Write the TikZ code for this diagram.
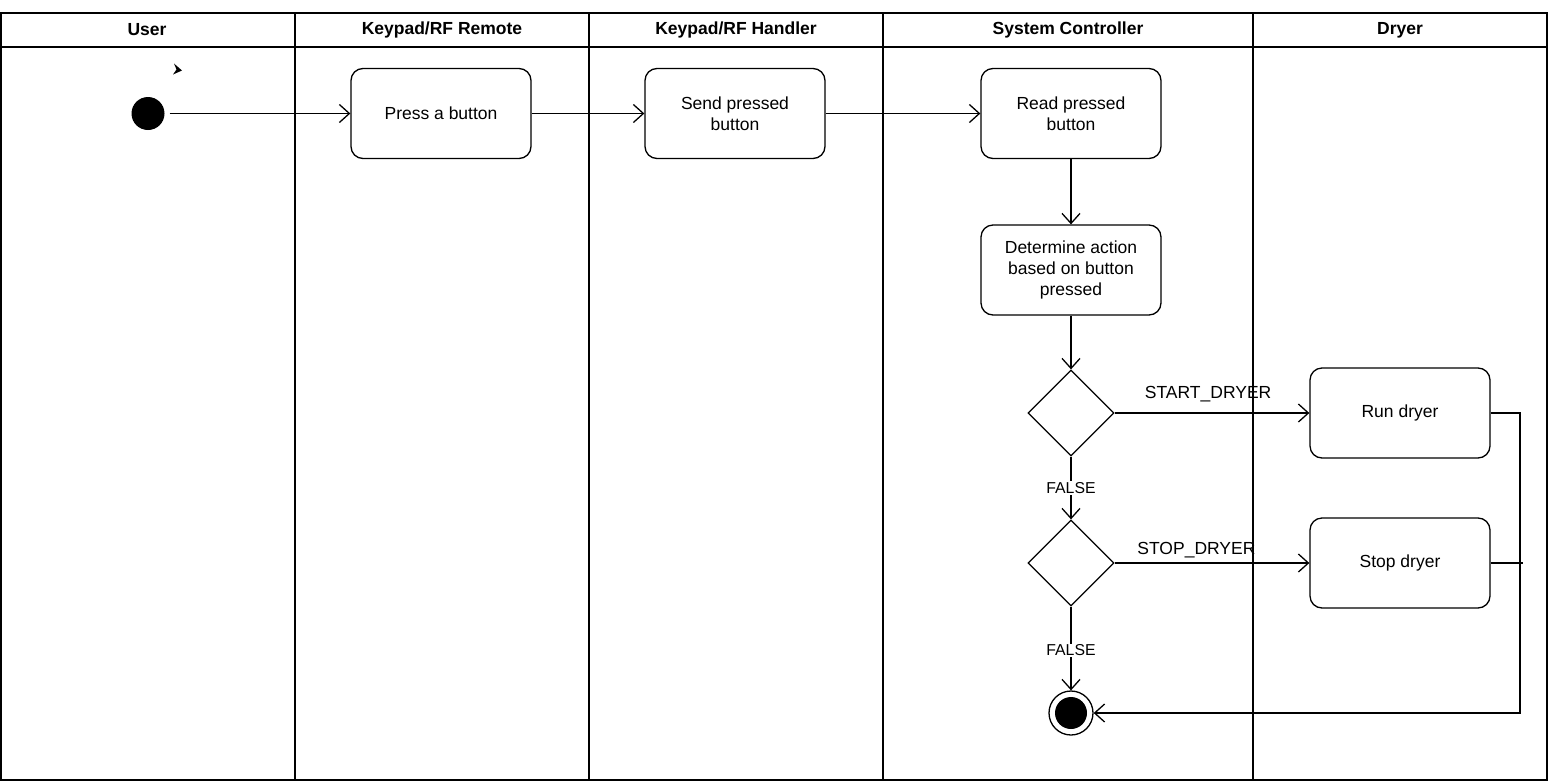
\documentclass[tikz,border=0pt]{standalone}
\usepackage{fontspec}
\setmainfont{Liberation Sans}
\usetikzlibrary{shapes.geometric,arrows.meta,positioning,calc}

\tikzset{
    lane/.style={draw, line width=1.3pt},
    lanetitle/.style={font=\fontsize{17.5}{21}\selectfont\bfseries},
    action/.style={draw, line width=1.3pt, rounded corners=12pt, minimum width=180pt,
        minimum height=90pt, align=center, font=\fontsize{17.5}{21}\selectfont},
    choice/.style={draw, diamond, line width=1.3pt, minimum width=86pt, minimum height=86pt,
        inner sep=0pt, aspect=1},
    flow/.style={line width=1.3pt, -{Straight Barb[length=10pt,width=18pt,line width=1.3pt]}},
    guard/.style={font=\fontsize{17.5}{21}\selectfont},
    falsetag/.style={font=\fontsize{15.8}{19}\selectfont, fill=white, inner sep=1pt}
}

\begin{document}
\begin{tikzpicture}[x=1pt, y=-1pt]
    \useasboundingbox (0,0) rectangle (1548,782);

    % Swimlanes
    \draw[lane] (1,13) rectangle (1547,780);
    \draw[lane] (1,47) -- (1547,47);
    \foreach \xa in {295,589,883,1253}
        \draw[lane] (\xa,13) -- (\xa,780);
    \node[lanetitle] (tuser) at (147,30) {User};
    \node[lanetitle] (tremote) at (442,30) {Keypad/RF Remote};
    \node[lanetitle] (thandler) at (736,30) {Keypad/RF Handler};
    \node[lanetitle] (tctrl) at (1068,30) {System Controller};
    \node[lanetitle] (tdryer) at (1400,30) {Dryer};

    % Start
    \node[circle, fill=black, minimum size=33pt, inner sep=0pt] (start) at (148,113.5) {};
    \fill (174,63.5) -- (182,70.5) -- (173,74.5) -- (176.5,69.5) -- cycle;

    % Actions
    \node[action] (press) at (441,113.5) {Press a button};
    \node[action] (send) at (735,113.5) {Send pressed\\button};
    \node[action] (read) at (1071,113.5) {Read pressed\\button};
    \node[action] (decide) at (1071,270) {Determine action\\based on button\\pressed};
    \node[choice] (isstart) at (1071,413) {};
    \node[choice] (isstop) at (1071,563) {};
    \node[action] (run) at (1400,413) {Run dryer};
    \node[action] (halt) at (1400,563) {Stop dryer};

    % End
    \node[circle, draw, line width=1.3pt, minimum size=44pt, inner sep=0pt] (final) at (1071,713) {};
    \fill (final.center) circle (16pt);

    % Flows
    \draw[flow] (start.east) ++(5,0) -- (press.west);
    \draw[flow] (press) -- (send);
    \draw[flow] (send) -- (read);
    \draw[flow] (read) -- (decide);
    \draw[flow] (decide) -- (isstart.north);
    \draw[flow] (isstart.east) -- node[guard, above, pos=0.48, yshift=7pt] {START\_DRYER} (run.west);
    \draw[flow] (isstop.east) -- node[guard, above, pos=0.42, yshift=1pt] {STOP\_DRYER} (halt.west);
    \draw[flow] (isstart.south) -- node[falsetag, pos=0.5] {FALSE} (isstop.north);
    \draw[flow] (isstop.south) -- node[falsetag, pos=0.52] {FALSE} (final.north);
    \draw[flow] (run.east) -| (1520,713) -- (final.east);
    \draw[line width=1.3pt] (halt.east) -- (1523,563);
\end{tikzpicture}
\end{document}
